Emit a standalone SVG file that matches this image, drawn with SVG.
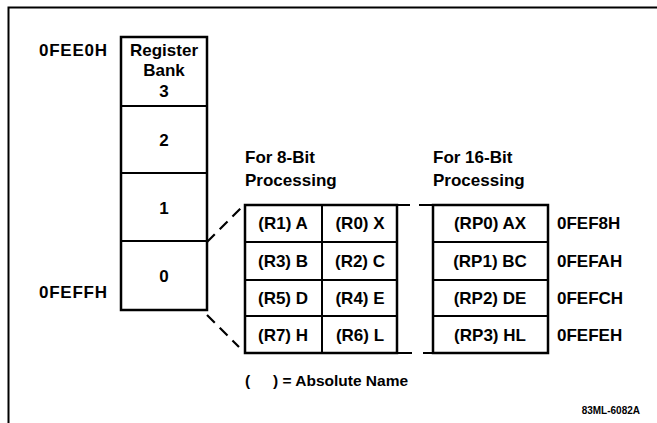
<svg xmlns="http://www.w3.org/2000/svg" width="657" height="423" viewBox="0 0 657 423">
<style>
text{font-family:"Liberation Sans",Arial,sans-serif;font-weight:bold;font-size:17px;fill:#000}
.c{text-anchor:middle}
.box{fill:#fff;stroke:#000;stroke-width:2.5}
.div{stroke:#000;stroke-width:2;fill:none}
.frame{stroke:#000;stroke-width:2;fill:none}
.dash{stroke:#000;stroke-width:2.2;fill:none;stroke-dasharray:11 7}
.sm{font-size:10px}
.lg{font-size:15.5px}
</style>
<rect width="657" height="423" fill="#fff"/>
<g id="frame"><path class="frame" d="M657,7.5 H8.5 V423"/></g>

<g id="bank">
<rect class="box" x="121" y="37" width="86" height="273"/>
<path class="div" d="M121,106 H207 M121,173 H207 M121,241 H207"/>
<text class="c" x="164" y="56">Register</text>
<text class="c" x="164" y="76">Bank</text>
<text class="c" x="164" y="97">3</text>
<text class="c" x="164" y="146">2</text>
<text class="c" x="164" y="214">1</text>
<text class="c" x="164" y="282">0</text>
</g>
<g id="addr-left">
<text x="39" y="56" textLength="68">0FEE0H</text>
<text x="39" y="298" textLength="68">0FEFFH</text>
</g>

<g id="connectors">
<path class="dash" d="M207,242 L241,208"/>
<path class="dash" d="M207,315 L239,347"/>
</g>

<g id="table8">
<text x="245" y="163">For 8-Bit</text>
<text x="245" y="186">Processing</text>
<path class="box" d="M245,205 V353 H397 V205 Z"/>
<path class="div" d="M245,205 H410 M245,353 H412"/>
<path class="div" d="M322,205 V353 M245,242 H397 M245,280 H397 M245,316 H397"/>
<text class="c" x="283" y="229">(R1) A</text>
<text class="c" x="360" y="229">(R0) X</text>
<text class="c" x="283" y="267">(R3) B</text>
<text class="c" x="360" y="267">(R2) C</text>
<text class="c" x="283" y="304">(R5) D</text>
<text class="c" x="360" y="304">(R4) E</text>
<text class="c" x="283" y="341">(R7) H</text>
<text class="c" x="360" y="341">(R6) L</text>
</g>

<g id="table16">
<text x="433" y="163">For 16-Bit</text>
<text x="433" y="186">Processing</text>
<path class="box" d="M433,205 V353 H548 V205 Z"/>
<path class="div" d="M419,205 H433 M423,353 H433"/>
<path class="div" d="M433,242 H548 M433,280 H548 M433,316 H548"/>
<text class="c" x="490" y="229">(RP0) AX</text>
<text class="c" x="490" y="267">(RP1) BC</text>
<text class="c" x="490" y="304">(RP2) DE</text>
<text class="c" x="490" y="341">(RP3) HL</text>
<text x="557" y="229">0FEF8H</text>
<text x="557" y="267">0FEFAH</text>
<text x="557" y="304">0FEFCH</text>
<text x="557" y="341">0FEFEH</text>
</g>

<g id="legend">
<text class="lg" x="245" y="386">(<tspan x="273">) = Absolute Name</tspan></text>
</g>
<g id="figid">
<text class="sm" x="640" y="414" text-anchor="end">83ML-6082A</text>
</g>
</svg>
